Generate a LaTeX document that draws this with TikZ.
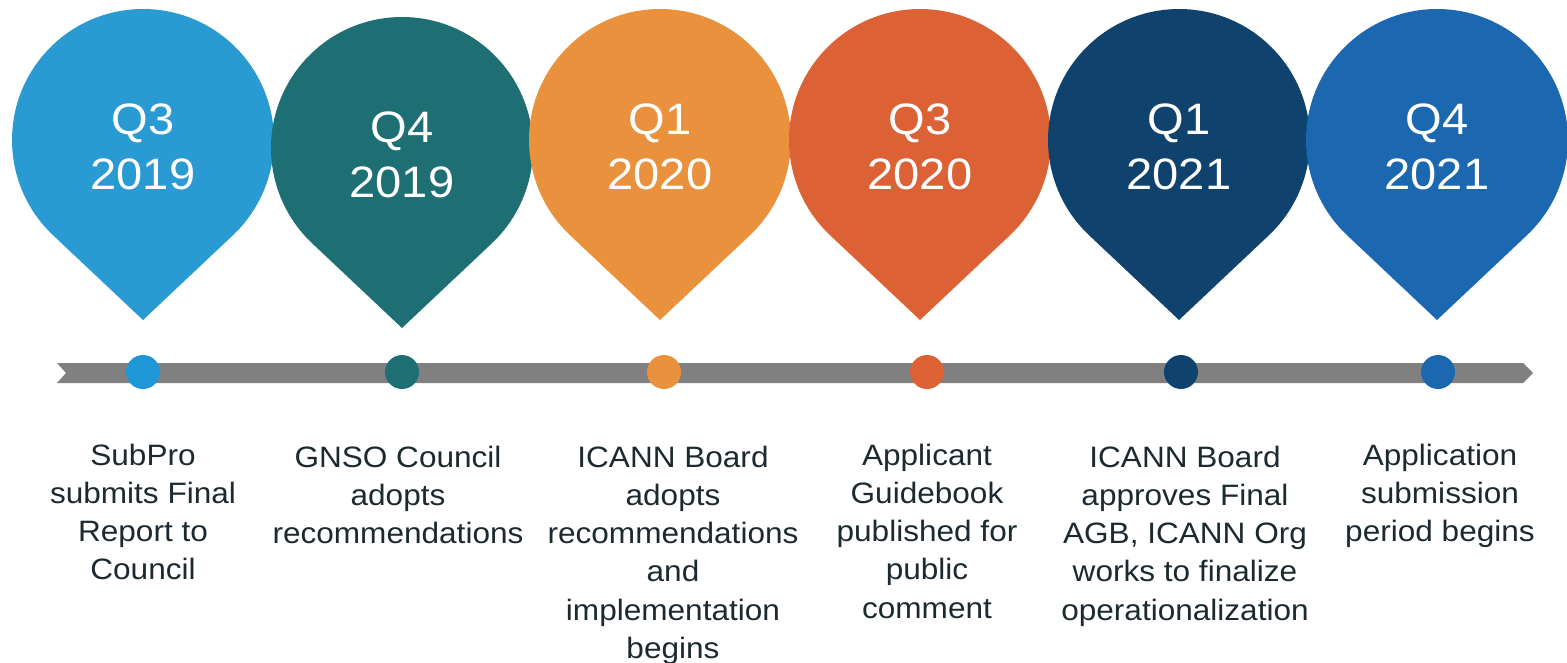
\documentclass[tikz,border=0pt]{standalone}
\usepackage{fontspec}
\setmainfont{Liberation Sans}[FakeStretch=1.07]
\definecolor{pinA}{HTML}{299BD2}
\definecolor{pinB}{HTML}{1E6F73}
\definecolor{pinC}{HTML}{E9913C}
\definecolor{pinD}{HTML}{DC6236}
\definecolor{pinE}{HTML}{0F436D}
\definecolor{pinF}{HTML}{1B68B0}
\definecolor{dotA}{HTML}{1F97D6}
\definecolor{bargray}{HTML}{808080}
\definecolor{textdark}{HTML}{1C2A30}
\begin{document}
\begin{tikzpicture}[x=1pt,y=-1pt,
  yeartext/.style={anchor=base, inner sep=0pt, text=white, font=\fontsize{44}{53}\selectfont},
  desctext/.style={anchor=base, inner sep=0pt, text=textdark, font=\fontsize{29.5}{38.3}\selectfont},
  dotmark/.style={circle, inner sep=0pt, minimum size=34pt}]
\useasboundingbox (0,0) rectangle (1567,662);
% timeline bar
\fill[bargray] (57,363) -- (1523,363) -- (1533,373) -- (1523,383) -- (57,383) -- (66,373) -- cycle;
% pins
\foreach \n/\cx/\cy/\col/\q/\yr in {1/143/140/pinA/Q3/2019, 2/402/148/pinB/Q4/2019, 3/660/140/pinC/Q1/2020, 4/920/140/pinD/Q3/2020, 5/1179/140/pinE/Q1/2021, 6/1437/140/pinF/Q4/2021}{
  \fill[\col] (\cx,{\cy+180}) -- ([shift={(133.3:131)}]\cx,\cy) arc[start angle=133.3, end angle=406.7, radius=131] -- cycle;
  \node[yeartext] (q\n) at (\cx,{\cy-6}) {\q};
  \node[yeartext] (y\n) at (\cx,{\cy+49}) {\yr};
}
% dots
\node[dotmark, fill=dotA] (dot1) at (143,372) {};
\node[dotmark, fill=pinB] (dot2) at (402,372) {};
\node[dotmark, fill=pinC] (dot3) at (664,372) {};
\node[dotmark, fill=pinD] (dot4) at (927,372) {};
\node[dotmark, fill=pinE] (dot5) at (1181,372) {};
\node[dotmark, fill=pinF] (dot6) at (1438,372) {};
% descriptions
\foreach \t [count=\i] in {SubPro, submits Final, Report to, Council}
  \node[desctext] (a\i) at (143, {465+(\i-1)*38.3}) {\t};
\foreach \t [count=\i] in {GNSO Council, adopts, recommendations}
  \node[desctext] (b\i) at (398, {467+(\i-1)*38.3}) {\t};
\foreach \t [count=\i] in {ICANN Board, adopts, recommendations, and, implementation, begins}
  \node[desctext] (c\i) at (673, {467+(\i-1)*38.3}) {\t};
\foreach \t [count=\i] in {Applicant, Guidebook, published for, public, comment}
  \node[desctext] (d\i) at (927, {465+(\i-1)*38.3}) {\t};
\foreach \t [count=\i] in {ICANN Board, approves Final, {AGB, ICANN Org}, works to finalize, operationalization}
  \node[desctext] (e\i) at (1185, {467+(\i-1)*38.3}) {\t};
\foreach \t [count=\i] in {Application, submission, period begins}
  \node[desctext] (f\i) at (1440, {465+(\i-1)*38.3}) {\t};
\end{tikzpicture}
\end{document}
